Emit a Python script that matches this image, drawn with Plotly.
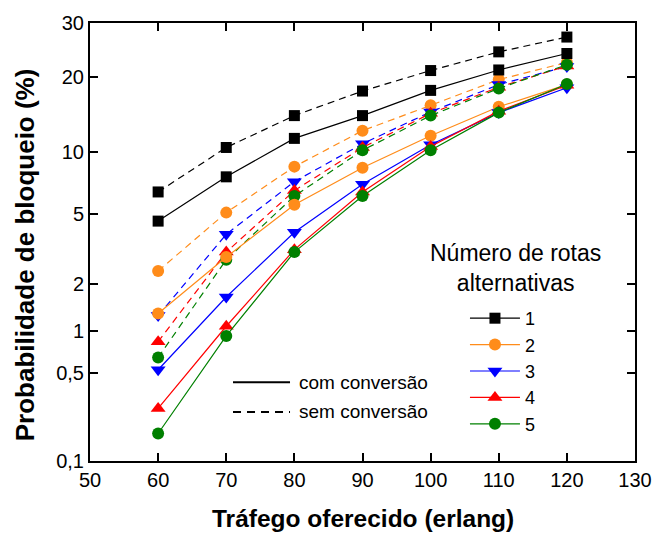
import plotly.graph_objects as go
from statistics import NormalDist

# ---------------- data ----------------
trafego = [60, 70, 80, 90, 100, 110, 120]
rotas = ["1", "2", "3", "4", "5"]

# Blocking probability (%) - com conversão (solid lines)
com_1 = [4.6, 7.7, 11.5, 14.3, 17.9, 21.2, 24.1]
com_2 = [1.3, 2.9, 5.6, 8.5, 11.8, 15.5, 18.8]
com_3 = [0.53, 1.66, 4.0, 7.1, 10.8, 14.7, 18.3]
com_4 = [0.27, 1.07, 3.2, 6.5, 10.6, 14.9, 18.7]
com_5 = [0.17, 0.92, 3.1, 6.2, 10.2, 14.7, 18.9]

# Blocking probability (%) - sem conversão (dashed lines)
sem_1 = [6.5, 10.5, 14.3, 17.8, 21.1, 24.4, 27.2]
sem_2 = [2.4, 5.1, 8.6, 12.4, 15.7, 19.6, 22.5]
sem_3 = [1.26, 3.9, 7.3, 10.9, 14.8, 18.8, 21.8]
sem_4 = [0.84, 3.1, 6.6, 10.5, 14.6, 18.4, 21.9]
sem_5 = [0.65, 2.8, 6.2, 10.2, 14.3, 18.2, 22.1]

x_ticks = [50, 60, 70, 80, 90, 100, 110, 120, 130]
y_tick_vals = [0.1, 0.5, 1, 2, 5, 10, 20, 30]
y_tick_text = ["0,1", "0,5", "1", "2", "5", "10", "20", "30"]

colors = ["#000000", "#FF8C1A", "#0000FF", "#FF0000", "#008000"]
symbols = ["square", "circle", "triangle-down", "triangle-up", "circle"]
sizes = [11, 12, 13, 13, 12]

# probability (normal-quantile) scale transform
nd = NormalDist()
def probit(p_percent):
    return nd.inv_cdf(p_percent / 100.0)

FONT = "Arial, Liberation Sans, sans-serif"

fig = go.Figure()

com = [com_1, com_2, com_3, com_4, com_5]
sem = [sem_1, sem_2, sem_3, sem_4, sem_5]

for i, name in enumerate(rotas):
    fig.add_trace(go.Scatter(
        x=trafego, y=[probit(v) for v in sem[i]], mode="lines+markers",
        line=dict(color=colors[i], width=1.2, dash="7px,5px"),
        marker=dict(symbol=symbols[i], size=sizes[i], color=colors[i]),
        showlegend=False, name=name + " sem conversão"))
for i, name in enumerate(rotas):
    fig.add_trace(go.Scatter(
        x=trafego, y=[probit(v) for v in com[i]], mode="lines+markers",
        line=dict(color=colors[i], width=1.2),
        marker=dict(symbol=symbols[i], size=sizes[i], color=colors[i]),
        showlegend=True, name=name))

axis_common = dict(
    showline=True, linecolor="black", linewidth=2, mirror="ticks",
    ticks="inside", ticklen=8, tickwidth=1.5, tickcolor="black",
    showgrid=False, zeroline=False, automargin=False,
    tickfont=dict(family=FONT, size=20, color="black"),
)

fig.update_xaxes(range=[50, 130], tickvals=x_ticks, **axis_common)
fig.update_yaxes(
    range=[probit(0.1), probit(30)],
    tickvals=[probit(v) for v in y_tick_vals], ticktext=y_tick_text,
    **axis_common)

# axis titles
fig.add_annotation(text="<b>Tráfego oferecido (erlang)</b>", xref="paper", yref="paper",
                   x=0.5, y=-0.132, xanchor="center", yanchor="middle",
                   showarrow=False, font=dict(family=FONT, size=24.5, color="black"))
fig.add_annotation(text="<b>Probabilidade de bloqueio (%)</b>", xref="paper", yref="paper",
                   x=-0.119, y=0.470, xanchor="center", yanchor="middle", textangle=-90,
                   showarrow=False, font=dict(family=FONT, size=26, color="black"))

# com / sem conversão key
fig.add_shape(type="line", xref="paper", yref="paper",
              x0=0.2624, x1=0.367, y0=0.180, y1=0.180,
              line=dict(color="black", width=2))
fig.add_shape(type="line", xref="paper", yref="paper",
              x0=0.2624, x1=0.367, y0=0.112, y1=0.112,
              line=dict(color="black", width=2, dash="8px,6px"))
fig.add_annotation(text="com conversão", xref="paper", yref="paper",
                   x=0.380, y=0.180, xanchor="left", yanchor="middle",
                   showarrow=False, font=dict(family=FONT, size=19, color="black"))
fig.add_annotation(text="sem conversão", xref="paper", yref="paper",
                   x=0.380, y=0.112, xanchor="left", yanchor="middle",
                   showarrow=False, font=dict(family=FONT, size=19, color="black"))
fig.add_annotation(text="Número de rotas<br>alternativas", xref="paper", yref="paper",
                   x=0.780, y=0.4406, xanchor="center", yanchor="middle",
                   showarrow=False, align="center",
                   font=dict(family=FONT, size=23, color="black"))

fig.update_layout(
    width=653, height=535,
    margin=dict(l=90, r=18, t=23, b=74),
    paper_bgcolor="white", plot_bgcolor="white",
    font=dict(family=FONT, color="black"),
    legend=dict(x=0.688, y=0.3676, xanchor="left", yanchor="top",
                bgcolor="rgba(0,0,0,0)", borderwidth=0,
                font=dict(family=FONT, size=18, color="black"),
                itemwidth=50, tracegroupgap=0),
)

# remove the default page margin so the 653x535 figure fills the window exactly
fig.write_html("out.html",
               config={"displayModeBar": False},
               post_script="document.body.style.margin='0px';"
                           "document.body.style.overflow='hidden';")
